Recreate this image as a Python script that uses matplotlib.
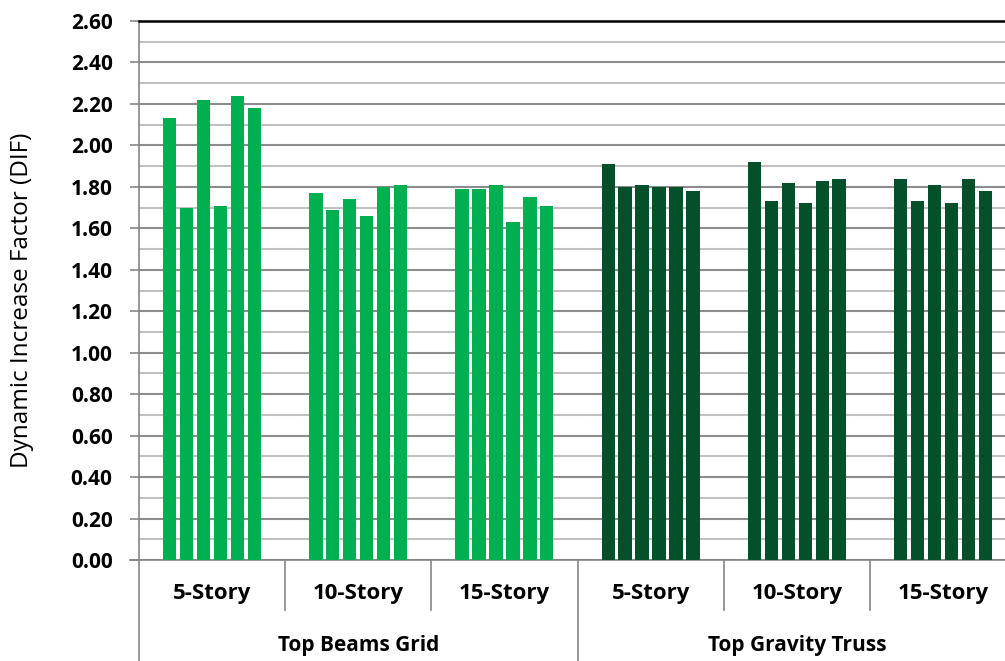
import matplotlib
matplotlib.use("Agg")
import matplotlib.pyplot as plt
import numpy as np

plt.rcParams['font.family'] = ['Open Sans', 'DejaVu Sans']

# Dynamic increase factors, six cases per story group
stories = ["5-Story", "10-Story", "15-Story", "5-Story", "10-Story", "15-Story"]
systems = ["Top Beams Grid", "Top Gravity Truss"]
dif_beams_grid = [
    [2.13, 1.70, 2.22, 1.71, 2.24, 2.18],
    [1.77, 1.69, 1.74, 1.66, 1.80, 1.81],
    [1.79, 1.79, 1.81, 1.63, 1.75, 1.71],
]
dif_gravity_truss = [
    [1.91, 1.80, 1.81, 1.80, 1.80, 1.78],
    [1.92, 1.73, 1.82, 1.72, 1.83, 1.84],
    [1.84, 1.73, 1.81, 1.72, 1.84, 1.78],
]
yticks = np.round(np.arange(0, 2.61, 0.2), 2)

light_green = "#00B050"
dark_green = "#03502A"

W, H = 1005, 661
fig = plt.figure(figsize=(W / 100, H / 100), dpi=100)
left, right, top, bottom = 139, 1016, 21, 560
ax = fig.add_axes([left / W, 1 - bottom / H, (right - left) / W, (bottom - top) / H])

groups = dif_beams_grid + dif_gravity_truss
colors = [light_green] * 3 + [dark_green] * 3
step, width = 0.116, 0.091
for g, (vals, col) in enumerate(zip(groups, colors)):
    xs = g + 0.5 + (np.arange(len(vals)) - 2.5) * step
    ax.bar(xs, vals, width=width, color=col, zorder=3)

ax.set_xlim(0, 6)
ax.set_ylim(0, 2.6)
ax.set_yticks(yticks)
ax.set_yticklabels([f"{v:.2f}" for v in yticks], fontsize=15, fontweight="bold")
ax.set_yticks(np.round(np.arange(0.1, 2.6, 0.2), 2), minor=True)
ax.tick_params(axis="y", which="major", length=6.5, width=1.2, color="#868686", pad=12.5)
ax.tick_params(axis="y", which="minor", length=0)
ax.set_xticks([])

ax.grid(axis="y", which="major", color="#8C8C8C", lw=1.5, zorder=0)
ax.grid(axis="y", which="minor", color="#C0C0C0", lw=1.5, zorder=0)
ax.set_axisbelow(True)

ax.spines["right"].set_visible(False)
ax.spines["top"].set_color("black")
ax.spines["top"].set_linewidth(1.8)
for s in ["left", "bottom"]:
    ax.spines[s].set_color("#868686")
    ax.spines[s].set_linewidth(1.2)

# x-axis tick stub to the left of the origin
ax.plot([-9 / (right - left) * 6, 0], [0, 0], color="#868686", lw=1.2,
        clip_on=False, transform=ax.transData)

plot_h = bottom - top
tr = ax.get_xaxis_transform()
inner_low = -(610 - bottom) / plot_h
outer_low = -(H - bottom) / plot_h
for b in range(0, 7):
    low = outer_low if b in (0, 3, 6) else inner_low
    ax.plot([b, b], [0, low], color="#868686", lw=1.2, clip_on=False, transform=tr)

for i, name in enumerate(stories):
    ax.text(i + 0.5, -(593 - bottom) / plot_h, name, transform=tr, ha="center",
            va="center", fontsize=16, fontweight="bold")
for i, name in enumerate(systems):
    ax.text(1.5 + 3 * i, -(645 - bottom) / plot_h, name, transform=tr, ha="center",
            va="center", fontsize=15, fontweight="bold")

fig.text(22 / W, 1 - 300 / H, "Dynamic Increase Factor (DIF)", rotation=90,
         ha="center", va="center", fontsize=17.5)

fig.savefig("out.png", dpi=100)
